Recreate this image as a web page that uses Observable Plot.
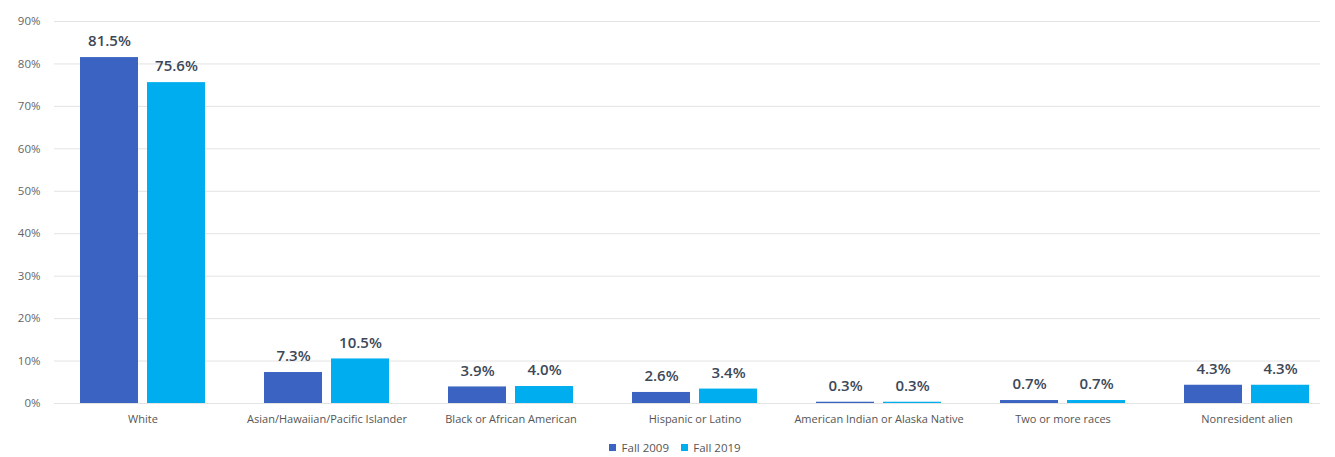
<!DOCTYPE html>
<html>
<head>
<meta charset="utf-8">
<script src="https://cdn.jsdelivr.net/npm/d3@7"></script>
<script src="https://cdn.jsdelivr.net/npm/@observablehq/plot@0.6"></script>
<style>
  body { margin: 0; background: #fff; font-family: "Open Sans", sans-serif; }
  #legend { display: flex; justify-content: center; padding-left: 26px; height: 20px; margin-top: 3px; align-items: center; }
</style>
</head>
<body>
<div id="chart"></div>
<div id="legend"></div>
<script>
const categories = ["White", "Asian/Hawaiian/Pacific Islander", "Black or African American", "Hispanic or Latino", "American Indian or Alaska Native", "Two or more races", "Nonresident alien"];
const years = ["Fall 2009", "Fall 2019"];
const fall2009 = [81.5, 7.3, 3.9, 2.6, 0.3, 0.7, 4.3];
const fall2019 = [75.6, 10.5, 4.0, 3.4, 0.3, 0.7, 4.3];
const yTicks = [0, 10, 20, 30, 40, 50, 60, 70, 80, 90];
const colors = ["#3b64c2", "#00aeef"];

const d2009 = categories.map((c, i) => ({category: c, year: years[0], value: fall2009[i]}));
const d2019 = categories.map((c, i) => ({category: c, year: years[1], value: fall2019[i]}));

const half = 67;   // inset so each series takes one half of the category band
const shift = 33.5;

const plot = Plot.plot({
  width: 1335,
  height: 437,
  marginTop: 21,
  marginBottom: 34,
  marginLeft: 54,
  marginRight: 15,
  style: {fontFamily: "Open Sans, sans-serif", background: "#fff"},
  x: {domain: categories, paddingInner: 0.32, paddingOuter: 0.1, align: 0.7, label: null},
  y: {domain: [0, 90], ticks: yTicks, label: null},
  color: {domain: years, range: colors},
  marks: [
    Plot.gridY(yTicks, {stroke: "#e3e3e3", strokeOpacity: 1}),
    Plot.axisY(yTicks, {tickSize: 0, tickPadding: 14, tickFormat: d => d + "%", fontSize: 11.5, fill: "#666", label: null}),
    Plot.axisX({tickSize: 0, tickPadding: 12, fontSize: 11, fill: "#555", label: null}),
    Plot.barY(d2009, {x: "category", y: "value", fill: "year", insetRight: half}),
    Plot.barY(d2019, {x: "category", y: "value", fill: "year", insetLeft: half}),
    Plot.text(d2009, {x: "category", y: "value", text: d => d.value.toFixed(1) + "%", dx: -shift, dy: -16, fontSize: 15, fontWeight: 600, fill: "#3c4858"}),
    Plot.text(d2019, {x: "category", y: "value", text: d => d.value.toFixed(1) + "%", dx: shift, dy: -16, fontSize: 15, fontWeight: 600, fill: "#3c4858"})
  ]
});
document.getElementById("chart").appendChild(plot);

const legend = Plot.legend({
  color: {type: "ordinal", domain: years, range: colors},
  swatchSize: 7,
  style: {fontSize: "11.5px", color: "#555", fontFamily: "Open Sans, sans-serif"}
});
document.getElementById("legend").appendChild(legend);
</script>
</body>
</html>
